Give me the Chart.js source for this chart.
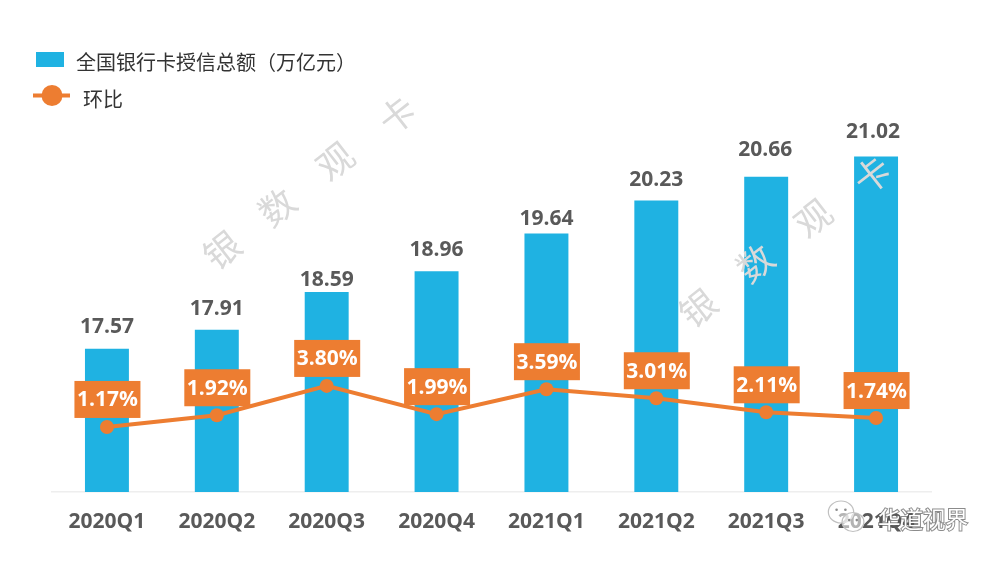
<!DOCTYPE html>
<html>
<head>
<meta charset="utf-8">
<style>html,body{margin:0;padding:0;background:#fff}#w{width:1000px;height:563px;position:relative}</style>
<script src="https://cdn.jsdelivr.net/npm/chart.js@4/dist/chart.umd.min.js"></script>
</head>
<body>
<div id="w"><canvas id="c" width="1000" height="563"></canvas></div>
<script>
const categories = ['2020Q1','2020Q2','2020Q3','2020Q4','2021Q1','2021Q2','2021Q3','2021Q4'];
const creditTotals = [17.57,17.91,18.59,18.96,19.64,20.23,20.66,21.02];
const qoqGrowth = [1.17,1.92,3.80,1.99,3.59,3.01,2.11,1.74];
const barName = '全国银行卡授信总额（万亿元）';
const lineName = '环比';
const watermarkChars = ['银','数','观','卡'];
const brandText = '华道视界';

const BLUE = '#1fb2e2', ORANGE = '#ed7d31', GREY = '#595959';
const LATIN = '"Open Sans", "Noto Sans", sans-serif';
const CJK = '"Noto Sans CJK SC", sans-serif';
// hand-placed label lift above each bar, as in the original
const valueLift = [21.5,20.5,11.5,21.5,14.5,20.5,26.5,24.5];
const valueShift = [0,0,0,0,0,0,-1,-3];

const decorations = {
  id: 'decorations',
  afterDatasetsDraw(chart) {
    const ctx = chart.ctx;
    const bars = chart.getDatasetMeta(1).data;
    const pts = chart.getDatasetMeta(0).data;
    ctx.save();

    // watermark
    ctx.fillStyle = '#d9d9d9';
    ctx.font = '36px ' + CJK;
    ctx.textAlign = 'center';
    ctx.textBaseline = 'middle';
    [[222,250],[277,207],[335,161],[397,115]].forEach((p,i)=>stamp(ctx,watermarkChars[i],p));
    [[698,308],[755,263],[813,218],[872,175]].forEach((p,i)=>stamp(ctx,watermarkChars[i],p));

    // bar value labels
    ctx.fillStyle = GREY;
    ctx.font = '700 21px ' + LATIN;
    bars.forEach((b,i)=>ctx.fillText(creditTotals[i].toFixed(2), b.x + valueShift[i], b.y - valueLift[i]));

    // percentage tags
    pts.forEach((p,i)=>{
      const bw = 66, bh = 37, bottom = p.y - 9;
      ctx.fillStyle = ORANGE;
      ctx.fillRect(p.x - bw/2 + 0.5, bottom - bh, bw, bh);
      ctx.fillStyle = '#ffffff';
      ctx.font = '700 21px ' + LATIN;
      ctx.fillText(qoqGrowth[i].toFixed(2) + '%', p.x + 0.5, bottom - bh/2 + 1);
    });

    // legend
    ctx.textAlign = 'left';
    ctx.fillStyle = BLUE;
    ctx.fillRect(36, 52, 28, 15);
    ctx.strokeStyle = ORANGE;
    ctx.lineWidth = 4;
    ctx.beginPath(); ctx.moveTo(33, 95.5); ctx.lineTo(70, 95.5); ctx.stroke();
    ctx.fillStyle = ORANGE;
    ctx.beginPath(); ctx.arc(52, 95.5, 10.5, 0, Math.PI*2); ctx.fill();
    ctx.fillStyle = '#333333';
    ctx.font = '20px ' + CJK;
    ctx.fillText(barName, 76, 62);
    ctx.fillText(lineName, 83, 99);

    // brand mark
    bubble(ctx, 841, 512, 11);
    bubble(ctx, 853, 522, 9.5);
    ctx.font = '22.5px ' + CJK;
    ctx.textBaseline = 'middle';
    ctx.lineWidth = 2;
    ctx.strokeStyle = 'rgba(90,90,90,0.7)';
    ctx.strokeText(brandText, 878, 519);
    ctx.fillStyle = '#ffffff';
    ctx.fillText(brandText, 878, 519);
    ctx.restore();
  }
};
function stamp(ctx, ch, p) {
  ctx.save();
  ctx.translate(p[0], p[1]);
  ctx.rotate(-38 * Math.PI / 180);
  ctx.fillText(ch, 0, 0);
  ctx.restore();
}
function bubble(ctx, x, y, r) {
  ctx.save();
  ctx.fillStyle = 'rgba(255,255,255,0.55)';
  ctx.strokeStyle = '#c0c0c0';
  ctx.lineWidth = 1.2;
  ctx.beginPath();
  ctx.ellipse(x, y, r*1.15, r, 0, 0, Math.PI*2);
  ctx.fill(); ctx.stroke();
  ctx.fillStyle = '#8c8c8c';
  ctx.beginPath(); ctx.arc(x - r*0.4, y - r*0.2, 1.3, 0, Math.PI*2); ctx.fill();
  ctx.beginPath(); ctx.arc(x + r*0.4, y - r*0.2, 1.3, 0, Math.PI*2); ctx.fill();
  ctx.restore();
}

new Chart(document.getElementById('c'), {
  data: {
    labels: categories,
    datasets: [
      { type:'line', label:lineName, data:qoqGrowth, yAxisID:'y1', order:1,
        borderColor:ORANGE, backgroundColor:ORANGE, borderWidth:4, tension:0,
        pointRadius:7, pointBackgroundColor:ORANGE, pointBorderWidth:0 },
      { type:'bar', label:barName, data:creditTotals, yAxisID:'y', order:2,
        backgroundColor:BLUE, borderWidth:0, barPercentage:1, categoryPercentage:0.4 }
    ]
  },
  options: {
    responsive:false,
    animation:false,
    devicePixelRatio:1,
    layout:{ padding:{ left:52, right:69, top:102, bottom:0 } },
    plugins:{ legend:{display:false}, tooltip:{enabled:false} },
    scales:{
      x:{
        grid:{display:false, drawTicks:false},
        border:{display:true, color:'#eeeeee', width:1.5},
        ticks:{ color:GREY, padding:17, font:{family:LATIN, size:21, weight:'700'}, maxRotation:0, autoSkip:false },
        afterFit(s){ s.height = 71; }
      },
      y:{ display:false, min:15, max:22 },
      y1:{ display:false, min:-3, max:22 }
    }
  },
  plugins:[decorations]
});
</script>
</body>
</html>
